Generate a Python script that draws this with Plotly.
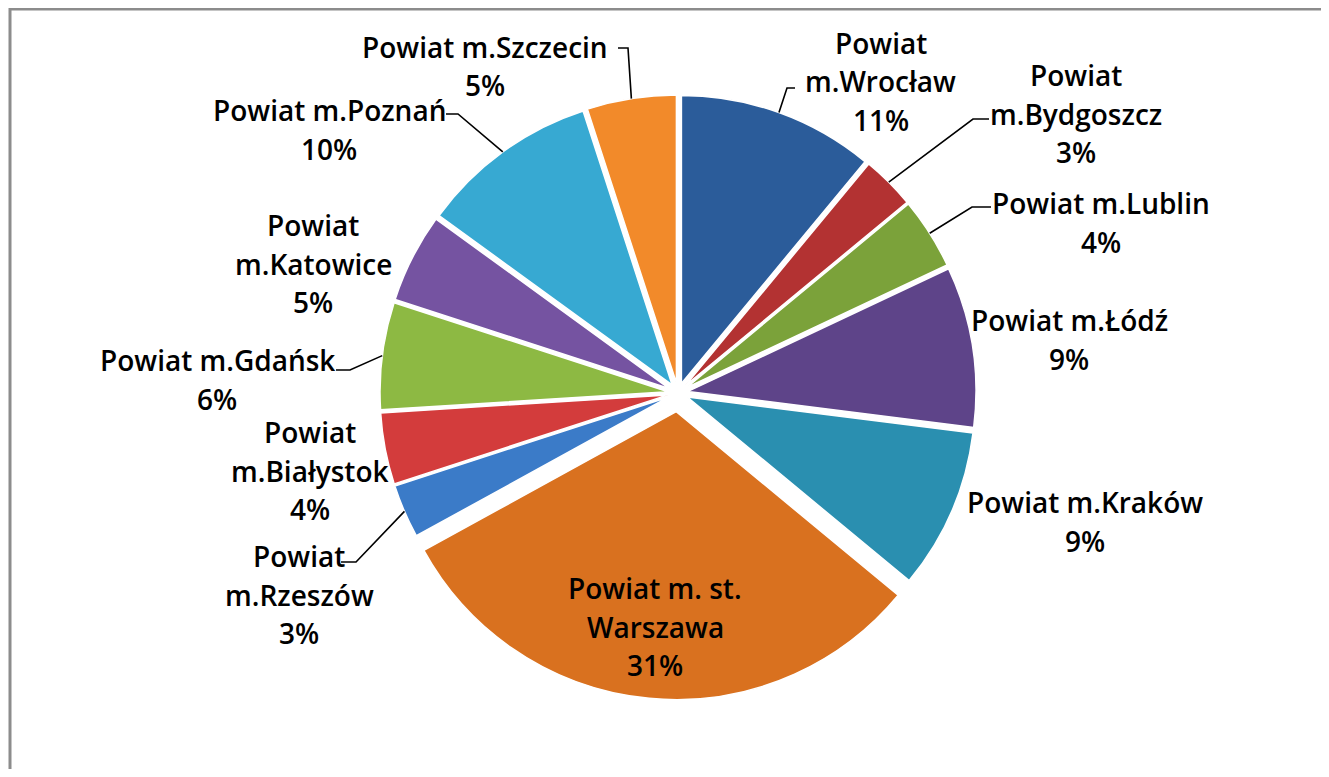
import math
import plotly.graph_objects as go

# ---------------- data ----------------
categories = ["Powiat m.Wrocław", "Powiat m.Bydgoszcz", "Powiat m.Lublin", "Powiat m.Łódź",
              "Powiat m.Kraków", "Powiat m. st. Warszawa", "Powiat m.Rzeszów", "Powiat m.Białystok",
              "Powiat m.Gdańsk", "Powiat m.Katowice", "Powiat m.Poznań", "Powiat m.Szczecin"]
shares = [11, 3, 4, 9, 9, 31, 3, 4, 6, 5, 10, 5]
label_lines = ["Powiat\nm.Wrocław", "Powiat\nm.Bydgoszcz", "Powiat m.Lublin", "Powiat m.Łódź",
               "Powiat m.Kraków", "Powiat m. st.\nWarszawa", "Powiat\nm.Rzeszów", "Powiat\nm.Białystok",
               "Powiat m.Gdańsk", "Powiat\nm.Katowice", "Powiat m.Poznań", "Powiat m.Szczecin"]

# ---------------- styling / layout ----------------
colors = ["#2B5C9A", "#B33232", "#7BA23A", "#5E4489", "#2A8FB0", "#D9711F",
          "#3B7BC8", "#D33C3C", "#8DB943", "#7553A1", "#37A9D2", "#F28A2A"]
pulls = [0.035, 0.035, 0.035, 0.035, 0.035, 0.065, 0.035, 0.035, 0.035, 0.035, 0.035, 0.035]

OFF = 8                                # page body margin
W, H = 1329 - OFF, 777 - 2 * OFF       # figure size
CX, CY, R = 678, 393, 288              # pie centre / radius in page pixels
FONT = dict(family="Open Sans", size=28, color="#000000", weight=600)
LINE_GAP = 38.5

# label block: (center x, first-line y) in page pixels
label_pos = [(881, 43), (1076, 75), (1101, 203), (1069, 320), (1085, 502), (655, 588),
             (299, 556), (310, 432), (217, 360), (313, 225), (329, 110), (485, 47)]
# leader line: (start, elbow) in page pixels, None = no leader
leaders = [((795, 88), (787, 88)), ((989, 119), (973, 119)), ((991, 207), (972, 207)), None,
           None, None, ((341, 562), (356, 562)), None, ((336, 370), (350, 370)), None,
           ((446, 114), (458, 114)), ((618, 48), (628, 48))]


def px(x, y):
    return (x - OFF) / W, 1 - (y - OFF) / H


maxpull = max(pulls)
half = R * (1 + maxpull)
fcx, fcy = CX - OFF, CY - OFF
dom_x = [(fcx - half) / W, (fcx + half) / W]
dom_y = [(H - fcy - half) / H, (H - fcy + half) / H]

fig = go.Figure(go.Pie(
    labels=categories, values=shares, sort=False, direction="clockwise", rotation=0,
    pull=pulls, textinfo="none", hoverinfo="label+percent",
    marker=dict(colors=colors, line=dict(color="#FFFFFF", width=1.5)),
    domain=dict(x=dom_x, y=dom_y), showlegend=False,
))

annotations = []
shapes = []
total = sum(shares)
cum = 0
for i, v in enumerate(shares):
    mid = (cum + v / 2) / total * 2 * math.pi
    cum += v
    lx, ly = label_pos[i]
    lines = label_lines[i].split("\n") + [f"{v}%"]
    for k, t in enumerate(lines):
        x, y = px(lx, ly + k * LINE_GAP)
        annotations.append(dict(x=x, y=y, xref="paper", yref="paper", text=t, showarrow=False,
                                xanchor="center", yanchor="middle", font=FONT))
    if leaders[i] is not None:
        rr = R * (1 + pulls[i])
        ax, ay = CX + rr * math.sin(mid), CY - rr * math.cos(mid)
        (sx, sy), (ex, ey) = leaders[i]
        p = [px(sx, sy), px(ex, ey), px(ax, ay)]
        path = "M {} {} L {} {} L {} {}".format(p[0][0], p[0][1], p[1][0], p[1][1], p[2][0], p[2][1])
        shapes.append(dict(type="path", path=path, xref="paper", yref="paper",
                           line=dict(color="#000000", width=1.6)))

# chart frame: left and top edges, kept inside the figure
bl = (px(10, 0)[0], 0)
tl = px(10, 9)
tr = (1, px(0, 9)[1])
shapes.append(dict(type="path", xref="paper", yref="paper",
                   path="M {} {} L {} {} L {} {}".format(bl[0], bl[1], tl[0], tl[1], tr[0], tr[1]),
                   line=dict(color="#8C8C8C", width=3)))

fig.update_layout(width=W, height=H, margin=dict(l=0, r=0, t=0, b=0),
                  paper_bgcolor="#FFFFFF", plot_bgcolor="#FFFFFF",
                  annotations=annotations, shapes=shapes)
fig.write_html("out.html")
